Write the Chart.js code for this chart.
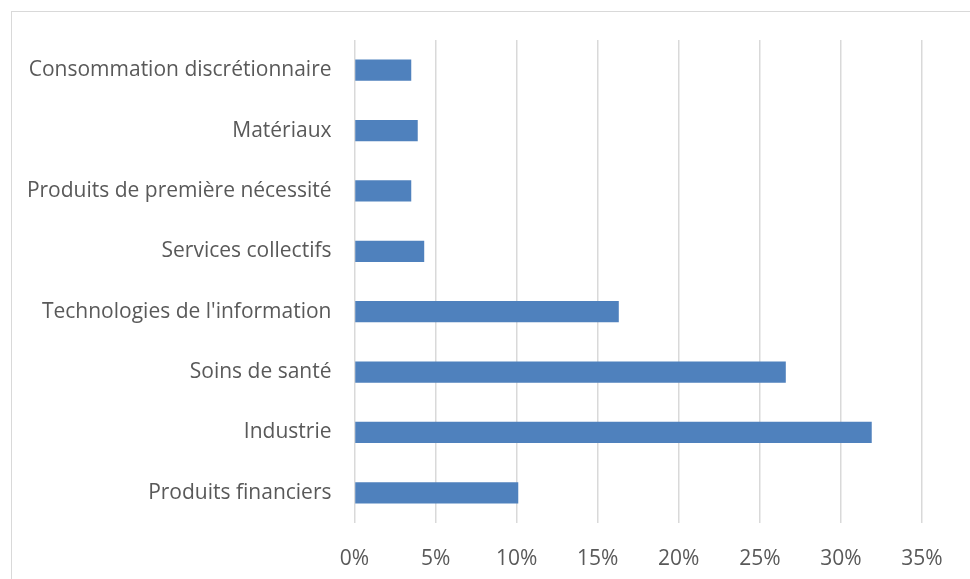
<!DOCTYPE html>
<html>
<head>
<meta charset="utf-8">
<script src="https://cdn.jsdelivr.net/npm/chart.js@4"></script>
<style>
  body { margin: 0; background: #fff; }
  #frame { position: absolute; left: 11px; top: 11px; width: 1000px; height: 600px; border: 1.5px solid #d9d9d9; }
  #wrap { position: absolute; left: 0; top: 0; width: 970px; height: 579px; }
</style>
</head>
<body>
<div id="frame"></div>
<div id="wrap"><canvas id="myChart" width="970" height="579"></canvas></div>
<script>
// categories, top to bottom
var sectors = [
  "Consommation discrétionnaire",
  "Matériaux",
  "Produits de première nécessité",
  "Services collectifs",
  "Technologies de l'information",
  "Soins de santé",
  "Industrie",
  "Produits financiers"
];
// share of portfolio, in %
var weights = [3.5, 3.9, 3.5, 4.3, 16.3, 26.6, 31.9, 10.1];
var xMax = 35;
var xStep = 5;

var labelFont = { family: "'Open Sans', sans-serif", size: 21 };

var ctx = document.getElementById("myChart").getContext("2d");
var sectorChart = new Chart(ctx, {
  type: "bar",
  data: {
    labels: sectors,
    datasets: [{
      data: weights,
      backgroundColor: "#4f81bd",
      borderWidth: 0,
      categoryPercentage: 1,
      barPercentage: 0.35
    }]
  },
  options: {
    indexAxis: "y",
    responsive: false,
    animation: false,
    layout: { padding: { top: 40, right: 48, left: 0, bottom: 0 } },
    plugins: {
      legend: { display: false },
      tooltip: { enabled: false }
    },
    scales: {
      x: {
        min: 0,
        max: xMax,
        ticks: {
          stepSize: xStep,
          color: "#595959",
          font: labelFont,
          padding: 23,
          callback: function(v) { return v + "%"; }
        },
        grid: { color: "#d9d9d9", lineWidth: 1.5, drawTicks: false },
        border: { display: false },
        afterFit: function(scale) { scale.height = 56; }
      },
      y: {
        ticks: { color: "#595959", font: labelFont, padding: 23 },
        grid: { display: false, drawTicks: false },
        border: { display: false },
        afterFit: function(scale) { scale.width = 354.5; }
      }
    }
  }
});
</script>
</body>
</html>
